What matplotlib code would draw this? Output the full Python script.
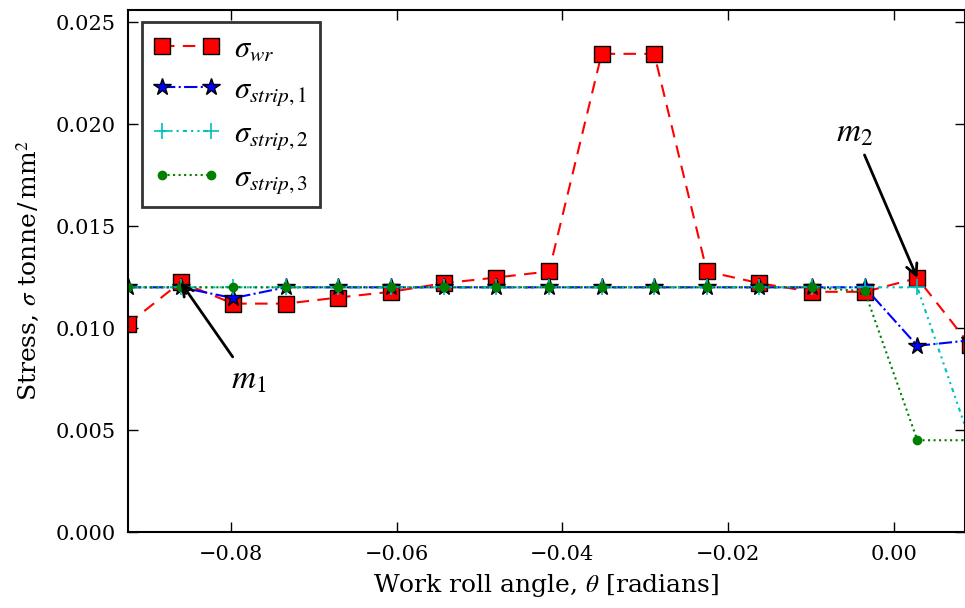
import matplotlib
matplotlib.use("Agg")
import matplotlib.pyplot as plt

theta = [-0.0924, -0.08605, -0.0797, -0.07335, -0.067, -0.06065, -0.0543,
         -0.04795, -0.0416, -0.03525, -0.0289, -0.02255, -0.0162, -0.00985,
         -0.0035, 0.00285, 0.0092]
sigma_wr = [0.0102, 0.01225, 0.0112, 0.0112, 0.0115, 0.01178, 0.0122,
            0.01248, 0.01278, 0.02345, 0.02345, 0.01278, 0.0122, 0.01178,
            0.01178, 0.01245, 0.00917]
sigma_strip1 = [0.012, 0.012, 0.01147, 0.012, 0.012, 0.012, 0.012, 0.012,
                0.012, 0.012, 0.012, 0.012, 0.012, 0.012, 0.012, 0.00913, 0.0094]
sigma_strip2 = [0.012, 0.012, 0.012, 0.012, 0.012, 0.012, 0.012, 0.012,
                0.012, 0.012, 0.012, 0.012, 0.012, 0.012, 0.012, 0.012, 0.0045]
sigma_strip3 = [0.012, 0.012, 0.012, 0.012, 0.012, 0.012, 0.012, 0.012,
                0.012, 0.012, 0.012, 0.012, 0.012, 0.012, 0.0118, 0.0045, 0.0045]
labels = [r'$\sigma_{wr}$', r'$\sigma_{strip,1}$', r'$\sigma_{strip,2}$', r'$\sigma_{strip,3}$']
xticks = [-0.08, -0.06, -0.04, -0.02, 0.00]
yticks = [0.000, 0.005, 0.010, 0.015, 0.020, 0.025]

plt.rcParams['font.family'] = ['DejaVu Serif']
plt.rcParams['mathtext.fontset'] = 'stix'
plt.rcParams['xtick.direction'] = 'in'
plt.rcParams['ytick.direction'] = 'in'
plt.rcParams['xtick.top'] = True
plt.rcParams['ytick.right'] = True

fig = plt.figure(figsize=(9.65, 6.08), dpi=100)
ax = fig.add_axes([128/965, 76/608, 1 - 128/965, (532-10)/608])

ax.plot(theta, sigma_wr, 'r--s', ms=12, lw=1.5, mec='k', mew=1.0, label=labels[0], dashes=(6, 4))
ax.plot(theta, sigma_strip1, 'b-.*', ms=13, lw=1.5, mec='k', mew=1.0, label=labels[1])
ax.plot(theta, sigma_strip2, 'c:+', ms=11, lw=1.5, mew=1.2, label=labels[2], dashes=(2, 2, 1, 2, 1, 2))
ax.plot(theta, sigma_strip3, 'g:o', ms=6, lw=1.5, mec='g', label=labels[3])

ax.set_xlim(-0.0924, 0.0086)
ax.set_ylim(0.0, 0.0256)
ax.set_xticks(xticks)
ax.set_yticks(yticks)
ax.set_xticklabels(['\u22120.08', '\u22120.06', '\u22120.04', '\u22120.02', '0.00'])
ax.set_yticklabels(['%.3f' % v for v in yticks])
ax.tick_params(labelsize=15, length=7, width=1, pad=9)
for s in ax.spines.values():
    s.set_linewidth(1.5)

ax.set_xlabel(r'Work roll angle, $\theta$ [radians]', fontsize=18, labelpad=6)
ax.set_ylabel(r'Stress, $\sigma$ tonne$\,$/$\,$mm$^2$', fontsize=18, labelpad=10)

ax.annotate(r'$m_1$', xy=(theta[1], sigma_wr[1]), xytext=(-0.0779, 0.0075),
            fontsize=24, ha='center', va='center',
            arrowprops=dict(arrowstyle='->', lw=2, color='k', shrinkA=3, shrinkB=0,
                            mutation_scale=20))
ax.annotate(r'$m_2$', xy=(theta[15], sigma_wr[15]), xytext=(-0.0047, 0.0196),
            fontsize=24, ha='center', va='center',
            arrowprops=dict(arrowstyle='->', lw=2, color='k', shrinkA=3, shrinkB=0,
                            mutation_scale=20))

leg = ax.legend(loc='upper left', numpoints=2, fontsize=22, fancybox=False,
                handlelength=2.2, handletextpad=0.45, borderpad=0.36,
                labelspacing=0.32, borderaxespad=0,
                bbox_to_anchor=(14/837, 1 - 12/522))
leg.get_frame().set_edgecolor('k')
leg.get_frame().set_linewidth(2)

fig.savefig('out.png', dpi=100, facecolor='white')
